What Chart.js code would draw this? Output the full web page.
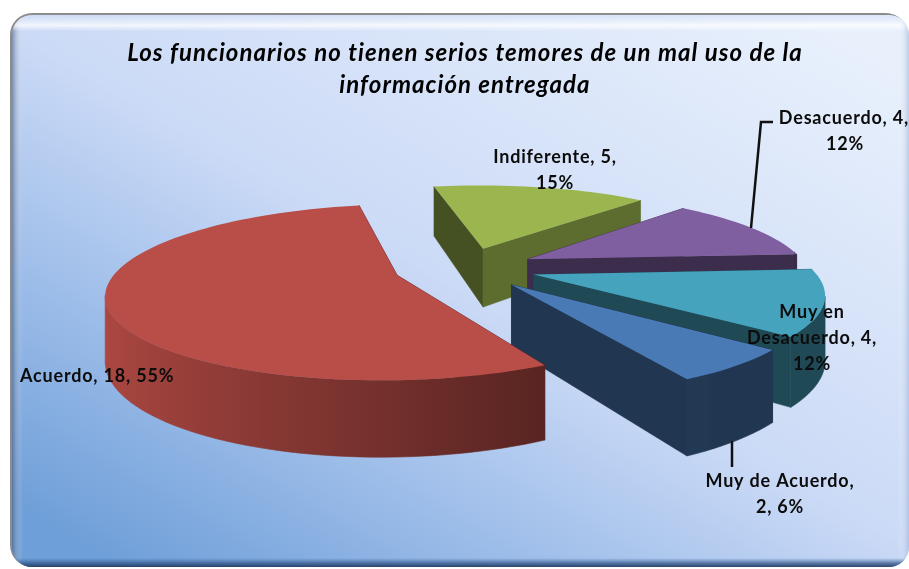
<!DOCTYPE html>
<html><head><meta charset="utf-8">
<style>html,body{margin:0;padding:0;background:#fff}canvas{display:block}</style>
<script src="https://cdn.jsdelivr.net/npm/chart.js@4"></script></head>
<body><div style="width:909px;height:569px"><canvas id="c" width="909" height="569"></canvas></div>
<script>
const categories = ['Muy de Acuerdo','Acuerdo','Indiferente','Desacuerdo','Muy en Desacuerdo'];
const values = [2,18,5,4,4];
const percents = [6,55,15,12,12];
const colors = ['#4a7ab5','#b94d47','#9bb54f','#7f5f9f','#45a3bd'];
const titleLines = ['Los funcionarios no tienen serios temores de un mal uso de la','información entregada'];
const labelLines = [['Muy de Acuerdo,','2, 6%'],['Acuerdo, 18, 55%'],['Indiferente, 5,','15%'],['Desacuerdo, 4,','12%'],['Muy en','Desacuerdo, 4,','12%']];
const labelAnchors = [[780,481,'center'],[20,376,'left'],[555,157,'center'],[845,118,'center'],[812,312,'center']];
const leaders = [[[732,441],[732,467]],null,null,[[773,122],[761,122],[751,228]],null];
const drawOrder = [2,3,4,0,1];
const cutShades = [[.45,.45],[.45,.45],[.45,.6],[.48,.48],[.45,.45]];
const view = {sx:279, sy:82, k:.19, depth:61};

function mix(hex,f){const n=parseInt(hex.slice(1),16);return `rgb(${(n>>16)*f|0},${((n>>8)&255)*f|0},${(n&255)*f|0})`;}
function rr(ctx,x,y,w,h,r){ctx.beginPath();ctx.roundRect(x,y,w,h,r);}
function strip(ctx,x0,y0,x1,y1,stops){
  const g=ctx.createLinearGradient(x0,y0,x1,y1);
  stops.forEach(s=>g.addColorStop(s[0],s[1]));
  ctx.fillStyle=g;
  if(y0===y1)ctx.fillRect(Math.min(x0,x1),0,Math.abs(x1-x0),569);
  else ctx.fillRect(0,Math.min(y0,y1),909,Math.abs(y1-y0));
}

const panel = {id:'panel',beforeDraw(chart){
  const ctx=chart.ctx;ctx.save();
  rr(ctx,10,13,898,554,22);ctx.fillStyle='#8c8c8c';ctx.fill();
  ctx.save();rr(ctx,12,15,897,552,20);ctx.clip();
  const g=ctx.createLinearGradient(60,530,466,-178);
  g.addColorStop(0,'#6f9fd8');g.addColorStop(.25,'#9dbde9');g.addColorStop(.5,'#cbdaf6');g.addColorStop(1,'#e8f0fc');
  ctx.fillStyle=g;ctx.fillRect(0,0,909,569);
  strip(ctx,12,0,23,0,[[0,'rgba(60,80,115,.55)'],[1,'rgba(255,255,255,0)']]);
  strip(ctx,0,15,0,31,[[0,'rgba(205,220,245,.5)'],[.65,'rgba(255,255,255,.75)'],[1,'rgba(255,255,255,0)']]);
  strip(ctx,909,0,898,0,[[0,'rgba(150,175,215,.55)'],[1,'rgba(255,255,255,0)']]);
  strip(ctx,0,567,0,558,[[0,'rgba(35,60,100,.95)'],[.45,'rgba(50,85,135,.7)'],[1,'rgba(60,100,160,0)']]);
  ctx.restore();
  ctx.restore();
  ctx.letterSpacing='1.05px';
}};

const pie3d = {id:'pie3d',beforeDatasetDraw(chart){
  const ctx=chart.ctx, arcs=chart.getDatasetMeta(0).data;
  ctx.letterSpacing='0px';
  drawOrder.forEach(i=>{
    const el=arcs[i], base=colors[i];
    const a0=el.startAngle,a1=el.endAngle,mid=(a0+a1)/2,e=el.options.offset/el.outerRadius;
    const P=(r,t,z)=>{
      const u=e*Math.cos(mid)+r*Math.cos(t), v=e*Math.sin(mid)+r*Math.sin(t), w=1-view.k*v;
      return [el.x+view.sx*u/w, el.y+(view.sy*v+view.depth*z)/w, v];
    };
    const n=Math.ceil((a1-a0)/(Math.PI/90)), ts=[];
    for(let j=0;j<=n;j++)ts.push(a0+(a1-a0)*j/n);
    const [s0,s1]=cutShades[i];
    const poly=(pts,fill)=>{
      ctx.beginPath();pts.forEach((p,j)=>j?ctx.lineTo(p[0],p[1]):ctx.moveTo(p[0],p[1]));ctx.closePath();
      ctx.fillStyle=fill;ctx.strokeStyle=fill;ctx.lineWidth=.6;ctx.fill();ctx.stroke();
    };
    poly([P(0,a0,0),P(1,a0,0),P(1,a0,1),P(0,a0,1)],mix(base,s0));
    poly([P(0,a1,0),P(1,a1,0),P(1,a1,1),P(0,a1,1)],mix(base,s1));
    let vis=ts.filter(t=>Math.sin(t)>-.1);
    if(vis.length>1){
      // the wall is seen only between the slice's left and right silhouette points
      const xsAll=vis.map(t=>P(1,t,0)[0]);
      const iLo=xsAll.indexOf(Math.min(...xsAll)), iHi=xsAll.indexOf(Math.max(...xsAll));
      vis=vis.slice(Math.min(iLo,iHi),Math.max(iLo,iHi)+1);
      const top=vis.map(t=>P(1,t,0)), bot=vis.map(t=>P(1,t,1)).reverse();
      const xs=top.map(p=>p[0]),xMin=Math.min(...xs),xMax=Math.max(...xs);
      const g=ctx.createLinearGradient(xMin,0,xMax,0);
      vis.map((t,j)=>[(top[j][0]-xMin)/Math.max(1,xMax-xMin),Math.max(.45,.63-.32*Math.cos(t))])
        .sort((a,b)=>a[0]-b[0]).forEach(s=>g.addColorStop(s[0],mix(base,s[1])));
      poly(top.concat(bot),g);
    }
    ctx.beginPath();let p=P(0,a0,0);ctx.moveTo(p[0],p[1]);
    ts.forEach(t=>{p=P(1,t,0);ctx.lineTo(p[0],p[1]);});
    ctx.closePath();ctx.fillStyle=base;ctx.fill();
  });
  return false;
}};

const labels3d = {id:'labels3d',afterDraw(chart){
  const ctx=chart.ctx;ctx.save();
  leaders.forEach(l=>{ if(!l)return;
    ctx.beginPath();l.forEach((p,j)=>j?ctx.lineTo(p[0],p[1]):ctx.moveTo(p[0],p[1]));
    ctx.strokeStyle='#111';ctx.lineWidth=2.5;ctx.stroke();});
  ctx.fillStyle='#0c0c0c';ctx.font='bold 18px Lato';ctx.letterSpacing='.8px';ctx.textBaseline='middle';
  labelLines.forEach((ls,i)=>{
    const [x,y,al]=labelAnchors[i];
    ls.forEach((t,j)=>{
      if(i===3&&j===0){ctx.textAlign='right';ctx.fillText(t,909,y);return;}
      ctx.textAlign=al;ctx.fillText(t,x,y+j*26);
    });
  });
  ctx.restore();
}};

new Chart(document.getElementById('c'),{
  type:'pie',
  data:{labels:categories,datasets:[{data:values,backgroundColor:colors,borderWidth:0,offset:37,clip:false}]},
  plugins:[panel,pie3d,labels3d],
  options:{
    responsive:false,animation:false,rotation:130,
    events:[],
    layout:{padding:{left:21,right:0,top:0,bottom:137}},
    plugins:{legend:{display:false},tooltip:{enabled:false},
      title:{display:true,text:titleLines,color:'#000',padding:{top:37,bottom:3},
        font:{family:'Lato',size:24,weight:'bold',style:'italic',lineHeight:32/24}}}
  }
});
</script></body></html>
